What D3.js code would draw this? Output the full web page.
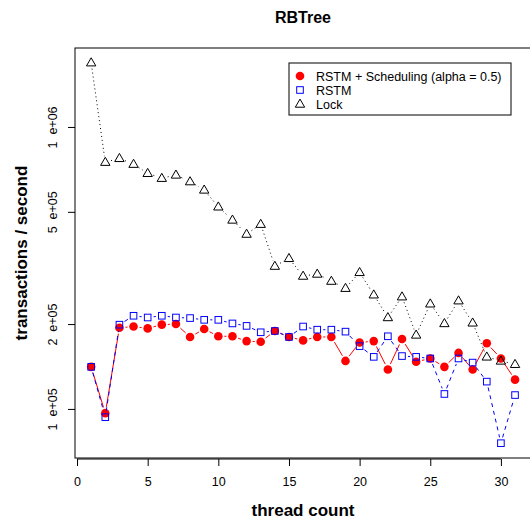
<!DOCTYPE html>
<html>
<head>
<meta charset="utf-8" />
<title>RBTree</title>
<script src="https://d3js.org/d3.v7.min.js"></script>
<style type="text/css">
	body { margin: 0; background: white; }
	svg text { font-family: "Liberation Sans", Arial, sans-serif; }
	.ylab { white-space: pre; }
</style>
</head>
<body>
<script>
	const threads = d3.range(1, 32);
	const sched = [141000, 96600, 194000, 196000, 193000, 199000, 200000, 180000, 192000, 181000,
		181000, 174000, 173000, 189000, 180000, 175000, 180000, 180000, 148000, 172000,
		174000, 138000, 177000, 147000, 151000, 141000, 158000, 138000, 171000, 151000, 127000];
	const rstm = [141000, 93500, 199000, 214000, 211000, 214000, 211000, 210000, 207000, 207000,
		201000, 197000, 187000, 189000, 180000, 196000, 191000, 191000, 188000, 167000,
		153000, 181000, 154000, 153000, 151000, 113000, 151000, 146000, 125000, 75600, 112000];
	const lock = [1690000, 750000, 774000, 738000, 685000, 658000, 676000, 640000, 598000, 521000,
		468000, 417000, 452000, 321000, 342000, 296000, 301000, 284000, 268000, 305000,
		254000, 211000, 250000, 183000, 236000, 201000, 242000, 202000, 153000, 148000, 144000];
	const xTicks = [0, 5, 10, 15, 20, 25, 30];
	const yTicks = [1e5, 2e5, 5e5, 1e6];
	const yTickLabels = ["1  e+05", "2  e+05", "5  e+05", "1  e+06"];
	const legendLabels = ["RSTM + Scheduling (alpha = 0.5)", "RSTM", "Lock"];

	const width = 530, height = 523;
	const pLeft = 75, pRight = 532, pTop = 48, pBottom = 458;

	const svg = d3.select("body").append("svg")
		.attr("width", width)
		.attr("height", height);

	const x = d3.scaleLinear().domain([-0.2, 32.2]).range([pLeft - 0.8, pRight]);
	const y = d3.scaleLog().domain([Math.pow(10, 4.826), Math.pow(10, 6.28)]).range([pBottom, pTop]);

	// plot box
	svg.append("rect")
		.attr("x", pLeft).attr("y", pTop)
		.attr("width", pRight - pLeft).attr("height", pBottom - pTop)
		.attr("fill", "none").attr("stroke", "black");

	// axes
	const xAxis = svg.append("g")
		.attr("transform", "translate(0," + (pBottom + 1) + ")")
		.call(d3.axisBottom(x).tickValues(xTicks).tickSize(7).tickPadding(11));
	const yAxis = svg.append("g")
		.attr("transform", "translate(" + pLeft + ",0)")
		.call(d3.axisLeft(y).tickValues(yTicks).tickSize(7).tickFormat((d, i) => yTickLabels[i]));
	xAxis.select(".domain").attr("d", "M" + x(0) + ",0H" + x(30));
	yAxis.select(".domain").remove();
	xAxis.selectAll("text").attr("font-size", 12.5).attr("fill", "black");
	yAxis.selectAll("text")
		.attr("class", "ylab")
		.attr("font-size", 12.5).attr("fill", "black")
		.attr("x", null).attr("dy", null)
		.attr("text-anchor", "middle")
		.attr("transform", "translate(-18,0) rotate(-90)");

	// type="b" style lines with gaps around points
	function gapLine(values, color, dash) {
		const gap = 6;
		const pts = values.map((v, i) => [x(threads[i]), y(v)]);
		for (let i = 0; i < pts.length - 1; i++) {
			const [x1, y1] = pts[i], [x2, y2] = pts[i + 1];
			const len = Math.hypot(x2 - x1, y2 - y1);
			if (len <= 2 * gap) continue;
			const ux = (x2 - x1) / len, uy = (y2 - y1) / len;
			svg.append("line")
				.attr("x1", x1 + ux * gap).attr("y1", y1 + uy * gap)
				.attr("x2", x2 - ux * gap).attr("y2", y2 - uy * gap)
				.attr("stroke", color).attr("stroke-width", 1)
				.attr("stroke-dasharray", dash);
		}
	}

	const tri = d3.symbol().type(d3.symbolTriangle).size(38);

	function circles(g, data, cx, cy) {
		g.selectAll("circle.pt").data(data).join("circle")
			.attr("class", "pt")
			.attr("cx", cx).attr("cy", cy).attr("r", 4.3)
			.attr("fill", "red");
	}
	function squares(g, data, cx, cy) {
		g.selectAll("rect.pt").data(data).join("rect")
			.attr("class", "pt")
			.attr("x", (d, i) => cx(d, i) - 3.3).attr("y", (d, i) => cy(d, i) - 3.3)
			.attr("width", 6.6).attr("height", 6.6)
			.attr("fill", "none").attr("stroke", "blue").attr("stroke-width", 1);
	}
	function triangles(g, data, cx, cy) {
		g.selectAll("path.pt").data(data).join("path")
			.attr("class", "pt")
			.attr("d", tri)
			.attr("transform", (d, i) => "translate(" + cx(d, i) + "," + (cy(d, i) + 0.5) + ")")
			.attr("fill", "none").attr("stroke", "black").attr("stroke-width", 1);
	}

	gapLine(sched, "red", null);
	circles(svg.append("g"), sched, (d, i) => x(threads[i]), d => y(d));
	gapLine(rstm, "blue", "4,4");
	squares(svg.append("g"), rstm, (d, i) => x(threads[i]), d => y(d));
	gapLine(lock, "black", "1,3");
	triangles(svg.append("g"), lock, (d, i) => x(threads[i]), d => y(d));

	// legend
	const lg = svg.append("g");
	lg.append("rect")
		.attr("x", 289).attr("y", 63).attr("width", 222).attr("height", 52)
		.attr("fill", "white").attr("stroke", "black");
	const rows = [0, 1, 2];
	const rowY = i => 76 + i * 14;
	circles(lg.append("g"), [rows[0]], () => 300, d => rowY(d));
	squares(lg.append("g"), [rows[1]], () => 300, d => rowY(d));
	triangles(lg.append("g"), [rows[2]], () => 300, d => rowY(d));
	lg.selectAll("text").data(legendLabels).join("text")
		.attr("x", 316).attr("y", (d, i) => rowY(i) + 4.5)
		.attr("font-size", 12.5)
		.text(d => d);

	// titles
	svg.append("text")
		.attr("x", 303).attr("y", 23)
		.attr("text-anchor", "middle")
		.attr("font-size", 16).attr("font-weight", "bold")
		.text("RBTree");
	svg.append("text")
		.attr("x", 303).attr("y", 516)
		.attr("text-anchor", "middle")
		.attr("font-size", 17).attr("font-weight", "bold")
		.text("thread count");
	svg.append("text")
		.attr("transform", "translate(27," + ((pTop + pBottom) / 2) + ") rotate(-90)")
		.attr("text-anchor", "middle")
		.attr("font-size", 17).attr("font-weight", "bold")
		.text("transactions / second");
</script>
</body>
</html>
